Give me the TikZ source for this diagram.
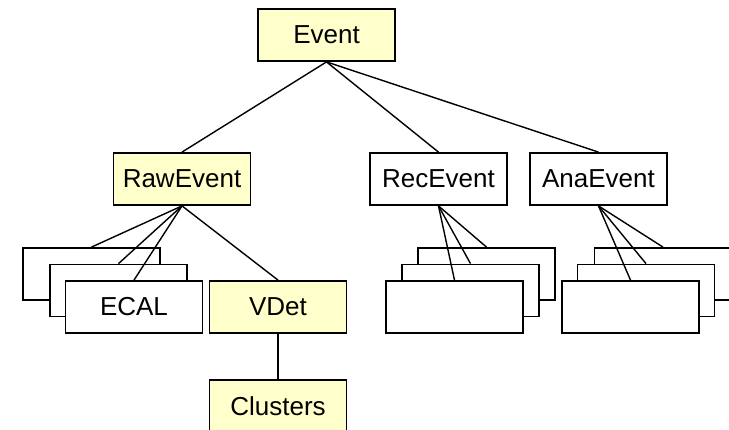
\documentclass[tikz,border=0pt]{standalone}
\usepackage{fontspec}
\setmainfont{Liberation Sans}
\definecolor{boxyellow}{HTML}{FFFFCC}
\begin{document}
\begin{tikzpicture}[x=1pt,y=-1pt,
  box/.style={draw, line width=1.8pt, minimum width=137pt, minimum height=52pt,
              inner sep=0pt, font=\fontsize{26}{30}\selectfont, fill=white},
  hl/.style={box, fill=boxyellow},
  link/.style={line width=1.4pt}]
\useasboundingbox (0,0) rectangle (729,429);
\clip (0,0) rectangle (729,429);

% top levels
\node[hl]  (event) at (326.5,35)  {Event};
\node[hl]  (raw)   at (182,179)   {RawEvent};
\node[box] (rec)   at (438.5,179) {RecEvent};
\node[box] (ana)   at (598.5,179) {AnaEvent};

% raw detector collections, stacked back to front
\node[box] (rawC) at (91.5,274)  {};
\node[box] (rawB) at (118.5,290.5) {};
\node[box] (rawA) at (134,307)   {ECAL};
\node[hl]  (vdet) at (278,307)   {VDet};
\node[hl]  (clus) at (278,406)   {Clusters};

% reconstructed objects
\node[box] (recC) at (486.5,274)  {};
\node[box] (recB) at (470.5,290.5) {};
\node[box] (recA) at (454.5,307)  {};

% analysis objects
\node[box] (anaC) at (663,274)    {};
\node[box] (anaB) at (646,290.5)  {};
\node[box] (anaA) at (630.5,307)  {};

% connectors
\draw[link] (event.south) -- (raw.north);
\draw[link] (event.south) -- (rec.north);
\draw[link] (event.south) -- (ana.north);

\draw[link] (raw.south) -- (rawC.north);
\draw[link] (raw.south) -- (rawB.north);
\draw[link] (raw.south) -- (rawA.north);
\draw[link] (raw.south) -- (vdet.north);
\draw[link] (vdet.south) -- (clus.north);

\draw[link] (rec.south) -- (recC.north);
\draw[link] (rec.south) -- (recB.north);
\draw[link] (rec.south) -- (recA.north);

\draw[link] (ana.south) -- (anaC.north);
\draw[link] (ana.south) -- (anaB.north);
\draw[link] (ana.south) -- (anaA.north);
\end{tikzpicture}
\end{document}
